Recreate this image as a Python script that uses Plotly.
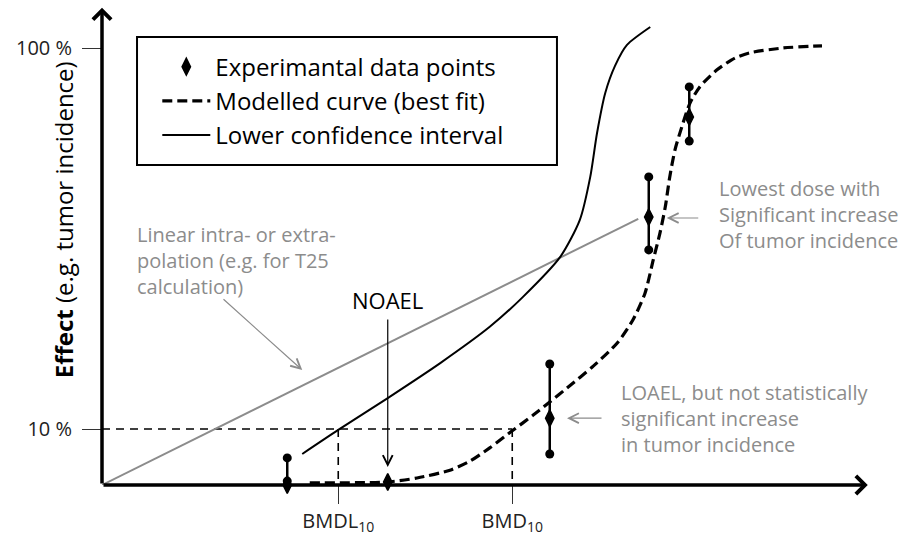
import plotly.graph_objects as go

# ---------------- data (schematic units) ----------------
# dose axis: arbitrary dose units; effect axis: relative effect (100 = "100 %")
pt_dose = [24.7, 38.1, 59.7, 72.9, 78.3]
pt_effect = [0.0, 0.7, 15.3, 61.3, 84.2]
bar_dose = [24.7, 59.7, 72.9, 78.3]
bar_low = [0.9, 7.1, 53.8, 78.7]
bar_high = [6.2, 27.7, 70.5, 91.1]

model_dose = [27.7, 38.1, 42.0, 46.4, 49.1, 51.7, 54.7, 57.5, 59.7, 62.0, 65.5,
              68.7, 70.8, 72.4, 73.5, 74.4, 75.1, 75.7, 76.4, 77.3, 78.4, 79.7,
              82.0, 84.4, 86.4, 90.8, 96.0]
model_effect = [0.5, 0.7, 1.6, 3.4, 5.5, 8.5, 12.4, 16.0, 19.0, 22.2, 27.2,
                32.5, 37.8, 43.9, 51.5, 57.7, 63.6, 70.5, 76.7, 81.9, 87.4, 91.1,
                95.0, 97.7, 98.9, 100.0, 100.5]

lcl_dose = [26.7, 31.5, 38.1, 45.1, 51.7, 56.1, 61.1, 63.7, 65.1, 66.0, 67.1,
            68.4, 70.0, 73.1]
lcl_effect = [7.1, 12.6, 19.9, 27.9, 36.2, 43.0, 52.2, 60.6, 70.5, 80.5, 89.7,
              95.9, 100.7, 104.8]

linear_dose = [0.0, 71.5]
linear_effect = [0.0, 60.9]

level_10 = 12.8       # position of the "10 %" level
level_100 = 100.0     # position of the "100 %" level
bmdl = 31.5
bmd = 54.7
noael = 38.1

y_tick_vals = [level_10, level_100]
y_tick_text = ["10 %", "100 %"]
x_tick_vals = [bmdl, bmd]
x_tick_text = ["BMDL<sub>10</sub>", "BMD<sub>10</sub>"]

X_MAX = 102.4
Y_MAX = 109.84
ARROW_X = 102.1
ARROW_Y = 109.2

FONT = "Open Sans, sans-serif"
GRAY = "#8c8c8c"

fig = go.Figure()

# reference lines for 10 % level, BMDL and BMD
fig.add_trace(go.Scatter(
    x=[0, bmd, None, bmdl, bmdl, None, bmd, bmd],
    y=[level_10, level_10, None, level_10, 0, None, level_10, 0],
    mode="lines", line=dict(color="black", width=1.6, dash="8px,6px"),
    showlegend=False, hoverinfo="skip"))

# linear extrapolation line
fig.add_trace(go.Scatter(
    x=linear_dose, y=linear_effect, mode="lines",
    line=dict(color=GRAY, width=2), showlegend=False, hoverinfo="skip"))

# lower confidence interval
fig.add_trace(go.Scatter(
    x=lcl_dose, y=lcl_effect, mode="lines", name="Lower confidence interval",
    line=dict(color="black", width=2, shape="spline", smoothing=0.7),
    legendrank=3, cliponaxis=False))

# modelled curve
fig.add_trace(go.Scatter(
    x=model_dose, y=model_effect, mode="lines", name="Modelled curve (best fit)",
    line=dict(color="black", width=3.2, dash="10px,5px", shape="spline", smoothing=0.7),
    legendrank=2, cliponaxis=False))

# error bars
ex, ey = [], []
for d, lo, hi in zip(bar_dose, bar_low, bar_high):
    ex += [d, d, None]
    ey += [lo, hi, None]
fig.add_trace(go.Scatter(
    x=ex, y=ey, mode="lines", line=dict(color="black", width=2.5),
    showlegend=False, hoverinfo="skip", cliponaxis=False))
fig.add_trace(go.Scatter(
    x=bar_dose + bar_dose, y=bar_low + bar_high, mode="markers",
    marker=dict(color="black", size=9, symbol="circle"),
    showlegend=False, hoverinfo="skip", cliponaxis=False))

# experimental data points
fig.add_trace(go.Scatter(
    x=pt_dose, y=pt_effect, mode="markers", name="Experimantal data points",
    marker=dict(color="black", size=12, symbol="diamond-tall",
                line=dict(color="black", width=1.5)),
    legendrank=1, cliponaxis=False))

annotations = []
# axes with arrows
annotations.append(dict(x=ARROW_X, y=0, ax=0, ay=0, xref="x", yref="y",
                        axref="x", ayref="y", text="", showarrow=True,
                        arrowhead=4, arrowsize=1.0, arrowwidth=3.5, arrowcolor="black"))
annotations.append(dict(x=0, y=ARROW_Y, ax=0, ay=0, xref="x", yref="y",
                        axref="x", ayref="y", text="", showarrow=True,
                        arrowhead=4, arrowsize=1.0, arrowwidth=3.5, arrowcolor="black"))

# axis titles
annotations.append(dict(x=78.6, y=-5.5, xref="x", yref="y", text="<b>Dose</b>",
                        xanchor="center", yanchor="middle",
                        showarrow=False, font=dict(family=FONT, size=25, color="black")))
annotations.append(dict(x=0.0, y=60.6, xref="paper", yref="y", xshift=-39,
                        xanchor="center", yanchor="middle",
                        text="<b>Effect</b> (e.g. tumor incidence)", textangle=-90,
                        showarrow=False, font=dict(family=FONT, size=24, color="black")))

# NOAEL
annotations.append(dict(x=noael, y=42.3, xref="x", yref="y", text="NOAEL",
                        xanchor="center", yanchor="middle",
                        showarrow=False, font=dict(family=FONT, size=22, color="black")))
annotations.append(dict(x=noael, y=4.1, ax=noael, ay=38.2, xref="x", yref="y",
                        axref="x", ayref="y", text="", showarrow=True,
                        arrowhead=5, arrowsize=1.6, arrowwidth=1.2, arrowcolor="black"))

# gray notes
annotations.append(dict(x=82.0, y=62.0, xref="x", yref="y", xanchor="left",
                        yanchor="middle", align="left", showarrow=False,
                        text="Lowest dose with<br>Significant increase<br>Of tumor incidence",
                        font=dict(family=FONT, size=20, color=GRAY)))
annotations.append(dict(x=75.3, y=61.1, ax=79.7, ay=61.1, xref="x", yref="y",
                        axref="x", ayref="y", text="", showarrow=True,
                        arrowhead=5, arrowsize=1.6, arrowwidth=1.2, arrowcolor=GRAY))

annotations.append(dict(x=68.9, y=15.3, xref="x", yref="y", xanchor="left",
                        yanchor="middle", align="left", showarrow=False,
                        text="LOAEL, but not statistically<br>significant increase<br>in tumor incidence",
                        font=dict(family=FONT, size=20, color=GRAY)))
annotations.append(dict(x=62.0, y=15.3, ax=66.8, ay=15.3, xref="x", yref="y",
                        axref="x", ayref="y", text="", showarrow=True,
                        arrowhead=5, arrowsize=1.6, arrowwidth=1.2, arrowcolor=GRAY))

annotations.append(dict(x=4.4, y=51.3, xref="x", yref="y", xanchor="left",
                        yanchor="middle", align="left", showarrow=False,
                        text="Linear intra- or extra-<br>polation (e.g. for T25<br>calculation)",
                        font=dict(family=FONT, size=20, color=GRAY)))
annotations.append(dict(x=26.7, y=26.3, ax=16.0, ay=42.8, xref="x", yref="y",
                        axref="x", ayref="y", text="", showarrow=True,
                        arrowhead=5, arrowsize=1.6, arrowwidth=1.2, arrowcolor=GRAY))

# legend frame
shapes = [dict(type="rect", xref="paper", yref="paper",
               x0=0.0456, x1=0.5924, y0=0.6667, y1=0.9333,
               line=dict(color="black", width=2), fillcolor="rgba(0,0,0,0)",
               layer="above")]

fig.update_layout(
    width=908, height=536,
    margin=dict(l=102, r=38, t=5, b=51, autoexpand=False),
    paper_bgcolor="white", plot_bgcolor="white",
    font=dict(family=FONT, color="black"),
    xaxis=dict(range=[0, X_MAX], showgrid=False, zeroline=False, showline=False,
               automargin=False,
               tickmode="array", tickvals=x_tick_vals, ticktext=x_tick_text,
               ticks="outside", ticklen=18, tickwidth=1, tickcolor="#333",
               tickfont=dict(family=FONT, size=20, color="#222")),
    yaxis=dict(range=[0, Y_MAX], showgrid=False, zeroline=False, showline=False,
               automargin=False,
               tickmode="array", tickvals=y_tick_vals, ticktext=y_tick_text,
               ticks="outside", ticklen=19, tickwidth=1, tickcolor="#333",
               ticklabelstandoff=6,
               tickfont=dict(family=FONT, size=20, color="#222")),
    legend=dict(x=0.072, y=0.9175, xanchor="left", yanchor="top",
                borderwidth=0, bgcolor="rgba(0,0,0,0)",
                font=dict(family=FONT, size=24, color="black"),
                itemwidth=48, tracegroupgap=0),
    annotations=annotations,
    shapes=shapes,
    showlegend=True,
)

fig.write_html("out.html", config={"displayModeBar": False},
               post_script="document.body.style.margin='0px';")
